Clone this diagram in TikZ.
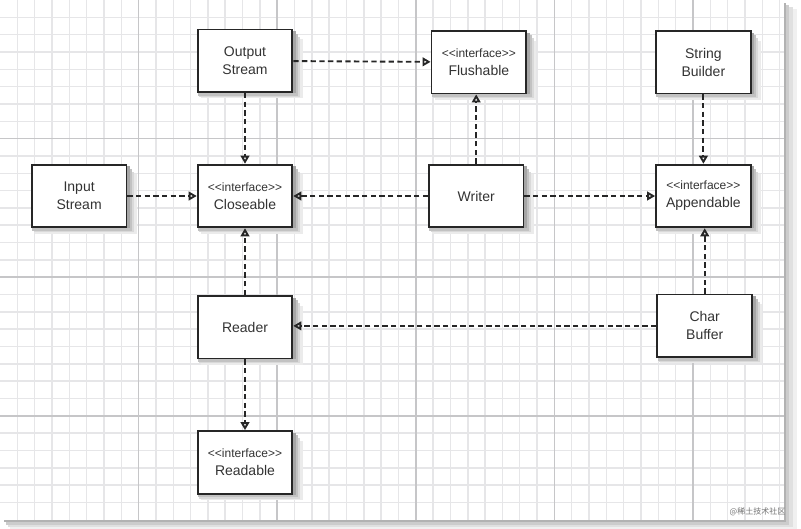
\documentclass[tikz,border=0pt]{standalone}
\usepackage{fontspec}
\setmainfont{Liberation Sans}
\newfontfamily\cjkfont{Noto Sans CJK SC}
\usetikzlibrary{arrows.meta,positioning}
\pgfdeclarelayer{paper}
\pgfdeclarelayer{boxshadows}
\pgfsetlayers{paper,boxshadows,main}
\definecolor{gridminor}{HTML}{E6E6E8}
\definecolor{gridmajor}{HTML}{C6C6C8}
\tikzset{
  uml box/.style={
    rectangle,
    minimum width=71pt,
    minimum height=47pt,
    line width=1.4pt,
    draw=black!85,
    fill=white,
    text=black!80,
    font=\fontsize{10.5}{13.5}\selectfont,
    align=center,
    inner sep=2pt,
  },
  box shade/.style={fill=black!#1},
  uml arrow/.style={-{Triangle[open,length=6pt,width=6.5pt]}, line width=1.4pt, dash pattern=on 4pt off 2.5pt, draw=black!85},
  grid minor/.style={draw=gridminor, line width=1.1pt},
  grid major/.style={draw=gridmajor, line width=1.1pt},
}
\newcommand{\iface}[1]{{\fontsize{9}{13.5}\selectfont<{}<interface>{}>}\\#1}

\begin{document}
\begin{tikzpicture}[x=0.75pt,y=-0.75pt]
  \useasboundingbox (0,0) rectangle (801,529);
  % sheet of squared paper
  \begin{pgfonlayer}{paper}
  \fill[black!6] (10,9) rectangle (797,529);
  \fill[black!12] (8,7) rectangle (793,527);
  \fill[black!20] (6,5) rectangle (789,525);
  \fill[black!30] (4,3) rectangle (786,522);
  \fill[white] (0,0) rectangle (784,520);
  \foreach \i in {1,...,45}
    \draw[grid minor] (\i*17.325,0) -- (\i*17.325,520);
  \foreach \j in {1,...,29}
    \draw[grid minor] (0,\j*17.325) -- (784,\j*17.325);
  \foreach \i in {1,...,5}
    \draw[grid major] (\i*138.6,0) -- (\i*138.6,520);
  \foreach \j in {1,2,3}
    \draw[grid major] (0,\j*138.6) -- (784,\j*138.6);
  \end{pgfonlayer}

  \node[uml box] (closeable) at (245,196) {\iface{Closeable}};
  \node[uml box,left=52pt of closeable] (input) {Input\\Stream};
  \node[uml box,right=101pt of closeable] (writer) {Writer};
  \node[uml box,right=98pt of writer] (appendable) {\iface{Appendable}};
  \node[uml box,above=53pt of closeable] (output) {Output\\Stream};
  \node[uml box,above=52pt of writer,xshift=2pt] (flushable) {\iface{Flushable}};
  \node[uml box,above=52pt of appendable] (builder) {String\\Builder};
  \node[uml box,below=50pt of closeable] (reader) {Reader};
  \node[uml box,below=49pt of appendable,xshift=1pt] (charbuf) {Char\\Buffer};
  \node[uml box,below=53pt of reader] (readable) {\iface{Readable}};
  \node[font=\cjkfont\fontsize{6}{6}\selectfont, text=black!55, anchor=east] (mark) at (790,512) {@稀土技术社区};

  % shadows under the boxes
  \begin{pgfonlayer}{boxshadows}
  \foreach \n in {input,closeable,writer,appendable,output,flushable,builder,reader,charbuf,readable} {
    \fill[box shade=8] ([xshift=3pt,yshift=-4pt]\n.south west) rectangle ([xshift=7pt,yshift=-8pt]\n.north east);
    \fill[box shade=15] ([xshift=2pt,yshift=-3pt]\n.south west) rectangle ([xshift=5pt,yshift=-6pt]\n.north east);
    \fill[box shade=24] ([xshift=1pt,yshift=-2pt]\n.south west) rectangle ([xshift=3.5pt,yshift=-4pt]\n.north east);
    \fill[box shade=35] (\n.south west) rectangle ([xshift=2pt,yshift=-2pt]\n.north east);
  }
  \end{pgfonlayer}

  \draw[uml arrow] (output) -- (flushable);
  \draw[uml arrow] (output) -- (closeable);
  \draw[uml arrow] (input) -- (closeable);
  \draw[uml arrow] (writer) -- (closeable);
  \draw[uml arrow] (writer.north) -- (writer.north |- flushable.south);
  \draw[uml arrow] (writer) -- (appendable);
  \draw[uml arrow] (builder) -- (appendable);
  \draw[uml arrow] (charbuf.north) -- (charbuf.north |- appendable.south);
  \draw[uml arrow] (charbuf) -- (charbuf -| reader.east);
  \draw[uml arrow] (reader) -- (closeable);
  \draw[uml arrow] (reader) -- (readable);
\end{tikzpicture}
\end{document}
